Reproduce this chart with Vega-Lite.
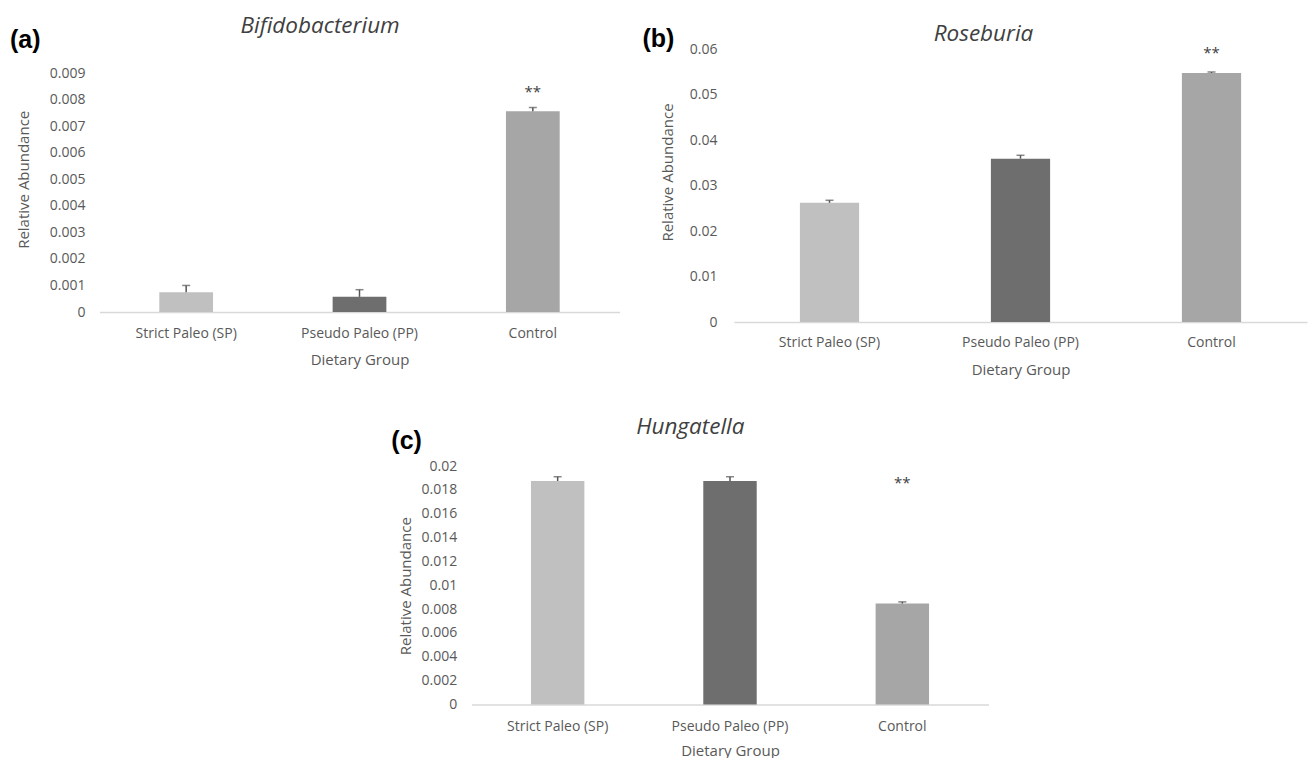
{
  "$schema": "https://vega.github.io/schema/vega-lite/v6.json",
  "background": "white",
  "padding": {"left": 9.5, "top": 13, "right": 0, "bottom": 1},
  "usermeta": {"embedOptions": {"actions": false}},
  "config": {
    "view": {"stroke": null},
    "font": "Open Sans",
    "axis": {"labelFont": "Open Sans", "labelFontSize": 14, "labelColor": "#595959", "titleFont": "Open Sans", "titleFontSize": 15, "titleFontWeight": "normal", "titleColor": "#595959", "ticks": false, "tickSize": 0, "grid": false, "domain": false},
    "text": {"font": "Open Sans"}
  },
  "spacing": 38,
  "vconcat": [
    {
      "spacing": 22.5,
      "hconcat": [
        {
          "spacing": 0,
          "vconcat": [
            {"width": 10, "height": 1, "data": {"values": [{"spacer": 1}]}, "mark": {"type": "point", "opacity": 0, "size": 0.5}},
            {
              "width": 520, "height": 239,
              "data": {"values": [
                {"group": "Strict Paleo (SP)", "abundance": 0.00074, "upper": 0.001},
                {"group": "Pseudo Paleo (PP)", "abundance": 0.00057, "upper": 0.00084},
                {"group": "Control", "abundance": 0.00756, "upper": 0.0077, "star": "**", "star_y": 0.00828}
              ]},
              "layer": [
                {"mark": {"type": "bar"},
                 "encoding": {
                   "x": {"field": "group", "type": "nominal", "sort": null, "scale": {"domain": ["Strict Paleo (SP)", "Pseudo Paleo (PP)", "Control"], "paddingInner": 0.69, "paddingOuter": 0.345},
                         "axis": {"orient": "bottom", "title": "Dietary Group", "labelAngle": 0, "domain": true, "domainColor": "#d9d9d9", "domainWidth": 1.5, "labelBaseline": "alphabetic", "labelPadding": 25.6, "titleBaseline": "alphabetic", "titleY": 52.3}},
                   "y": {"field": "abundance", "type": "quantitative", "scale": {"domain": [0, 0.009], "nice": false},
                         "axis": {"orient": "left", "title": "Relative Abundance", "values": [0, 0.001, 0.002, 0.003, 0.004, 0.005, 0.006, 0.007, 0.008, 0.009], "format": "~g", "labelPadding": 14.5, "titleBaseline": "alphabetic", "titleAlign": "center", "titleX": -70.8, "titleY": 106.3}},
                   "color": {"field": "group", "type": "nominal", "scale": {"domain": ["Strict Paleo (SP)", "Pseudo Paleo (PP)", "Control"], "range": ["#c0c0c0", "#6e6e6e", "#a6a6a6"]}, "legend": null}
                 }},
                {"mark": {"type": "rule", "color": "#555555", "strokeWidth": 1.5},
                 "encoding": {
                   "x": {"field": "group", "type": "nominal", "sort": null, "scale": {"domain": ["Strict Paleo (SP)", "Pseudo Paleo (PP)", "Control"], "paddingInner": 0.69, "paddingOuter": 0.345}, "axis": null},
                   "y": {"field": "abundance", "type": "quantitative", "scale": {"domain": [0, 0.009], "nice": false}, "axis": null},
                   "y2": {"field": "upper"}
                 }},
                {"mark": {"type": "tick", "color": "#555555", "thickness": 1.5, "size": 8},
                 "encoding": {
                   "x": {"field": "group", "type": "nominal", "sort": null, "scale": {"domain": ["Strict Paleo (SP)", "Pseudo Paleo (PP)", "Control"], "paddingInner": 0.69, "paddingOuter": 0.345}, "axis": null},
                   "y": {"field": "upper", "type": "quantitative", "scale": {"domain": [0, 0.009], "nice": false}, "axis": null}
                 }},
                {"transform": [{"filter": "isValid(datum.star)"}],
                 "mark": {"type": "text", "fontSize": 15, "color": "#404040", "baseline": "middle", "align": "center"},
                 "encoding": {
                   "x": {"field": "group", "type": "nominal", "sort": null, "scale": {"domain": ["Strict Paleo (SP)", "Pseudo Paleo (PP)", "Control"], "paddingInner": 0.69, "paddingOuter": 0.345},
                         "axis": {"orient": "top", "title": "Bifidobacterium", "labels": false, "domain": false, "ticks": false, "titleFontStyle": "italic", "titleFontSize": 22.5, "titleColor": "#404040", "titleAngle": 0, "titleAlign": "center", "titleBaseline": "alphabetic", "titleX": 220.1, "titleY": -40.7}},
                   "y": {"field": "star_y", "type": "quantitative", "scale": {"domain": [0, 0.009], "nice": false},
                         "axis": {"orient": "right", "title": "(a)", "labels": false, "domain": false, "ticks": false, "titleFont": "Liberation Sans", "titleFontWeight": "bold", "titleFontSize": 25, "titleColor": "#000000", "titleAngle": 0, "titleAlign": "left", "titleBaseline": "alphabetic", "titleX": -610, "titleY": -25.9}},
                   "text": {"field": "star"}
                 }}
              ],
              "resolve": {"axis": {"x": "independent", "y": "independent"}}
            }
          ]
        },
        {
          "spacing": 0,
          "vconcat": [
            {"width": 10, "height": 8.3, "data": {"values": [{"spacer": 1}]}, "mark": {"type": "point", "opacity": 0, "size": 0.5}},
            {
              "width": 573, "height": 273,
              "data": {"values": [
                {"group": "Strict Paleo (SP)", "abundance": 0.0262, "upper": 0.02675},
                {"group": "Pseudo Paleo (PP)", "abundance": 0.0359, "upper": 0.03664},
                {"group": "Control", "abundance": 0.05473, "upper": 0.05495, "star": "**", "star_y": 0.05918}
              ]},
              "layer": [
                {"mark": {"type": "bar"},
                 "encoding": {
                   "x": {"field": "group", "type": "nominal", "sort": null, "scale": {"domain": ["Strict Paleo (SP)", "Pseudo Paleo (PP)", "Control"], "paddingInner": 0.69, "paddingOuter": 0.345},
                         "axis": {"orient": "bottom", "title": "Dietary Group", "labelAngle": 0, "domain": true, "domainColor": "#d9d9d9", "domainWidth": 1.5, "labelBaseline": "alphabetic", "labelPadding": 24, "titleBaseline": "alphabetic", "titleY": 52}},
                   "y": {"field": "abundance", "type": "quantitative", "scale": {"domain": [0, 0.06], "nice": false},
                         "axis": {"orient": "left", "title": "Relative Abundance", "values": [0, 0.01, 0.02, 0.03, 0.04, 0.05, 0.06], "format": "~g", "labelPadding": 17, "titleBaseline": "alphabetic", "titleAlign": "center", "titleX": -62, "titleY": 123}},
                   "color": {"field": "group", "type": "nominal", "scale": {"domain": ["Strict Paleo (SP)", "Pseudo Paleo (PP)", "Control"], "range": ["#d9d9d9", "#707070", "#bfbfbf"]}, "legend": null}
                 }},
                {"mark": {"type": "rule", "color": "#555555", "strokeWidth": 1.5},
                 "encoding": {
                   "x": {"field": "group", "type": "nominal", "sort": null, "scale": {"domain": ["Strict Paleo (SP)", "Pseudo Paleo (PP)", "Control"], "paddingInner": 0.69, "paddingOuter": 0.345}, "axis": null},
                   "y": {"field": "abundance", "type": "quantitative", "scale": {"domain": [0, 0.06], "nice": false}, "axis": null},
                   "y2": {"field": "upper"}
                 }},
                {"mark": {"type": "tick", "color": "#555555", "thickness": 1.5, "size": 8},
                 "encoding": {
                   "x": {"field": "group", "type": "nominal", "sort": null, "scale": {"domain": ["Strict Paleo (SP)", "Pseudo Paleo (PP)", "Control"], "paddingInner": 0.69, "paddingOuter": 0.345}, "axis": null},
                   "y": {"field": "upper", "type": "quantitative", "scale": {"domain": [0, 0.06], "nice": false}, "axis": null}
                 }},
                {"transform": [{"filter": "isValid(datum.star)"}],
                 "mark": {"type": "text", "fontSize": 15, "color": "#404040", "baseline": "middle", "align": "center"},
                 "encoding": {
                   "x": {"field": "group", "type": "nominal", "sort": null, "scale": {"domain": ["Strict Paleo (SP)", "Pseudo Paleo (PP)", "Control"], "paddingInner": 0.69, "paddingOuter": 0.345},
                         "axis": {"orient": "top", "title": "Roseburia", "labels": false, "domain": false, "ticks": false, "titleFontStyle": "italic", "titleFontSize": 22.5, "titleColor": "#404040", "titleAngle": 0, "titleAlign": "center", "titleBaseline": "alphabetic", "titleX": 249, "titleY": -8.7}},
                   "y": {"field": "star_y", "type": "quantitative", "scale": {"domain": [0, 0.06], "nice": false},
                         "axis": {"orient": "right", "title": "(b)", "labels": false, "domain": false, "ticks": false, "titleFont": "Liberation Sans", "titleFontWeight": "bold", "titleFontSize": 25, "titleColor": "#000000", "titleAngle": 0, "titleAlign": "left", "titleBaseline": "alphabetic", "titleX": -665, "titleY": -3}},
                   "text": {"field": "star"}
                 }}
              ],
              "resolve": {"axis": {"x": "independent", "y": "independent"}}
            }
          ]
        }
      ]
    },
    {
      "spacing": 0,
      "hconcat": [
        {"width": 290.5, "height": 10, "data": {"values": [{"spacer": 1}]}, "mark": {"type": "point", "opacity": 0, "size": 0.5}},
        {
          "width": 517, "height": 238.4,
          "data": {"values": [
            {"group": "Strict Paleo (SP)", "abundance": 0.01874, "upper": 0.0191},
            {"group": "Pseudo Paleo (PP)", "abundance": 0.01874, "upper": 0.0191},
            {"group": "Control", "abundance": 0.00846, "upper": 0.0086, "star": "**", "star_y": 0.01854}
          ]},
          "layer": [
            {"mark": {"type": "bar"},
             "encoding": {
               "x": {"field": "group", "type": "nominal", "sort": null, "scale": {"domain": ["Strict Paleo (SP)", "Pseudo Paleo (PP)", "Control"], "paddingInner": 0.69, "paddingOuter": 0.345},
                     "axis": {"orient": "bottom", "title": "Dietary Group", "labelAngle": 0, "domain": true, "domainColor": "#d9d9d9", "domainWidth": 1.5, "labelBaseline": "alphabetic", "labelPadding": 26, "titleBaseline": "alphabetic", "titleY": 50.6}},
               "y": {"field": "abundance", "type": "quantitative", "scale": {"domain": [0, 0.02], "nice": false},
                     "axis": {"orient": "left", "title": "Relative Abundance", "values": [0, 0.002, 0.004, 0.006, 0.008, 0.01, 0.012, 0.014, 0.016, 0.018, 0.02], "format": "~g", "labelPadding": 14.7, "titleBaseline": "alphabetic", "titleAlign": "center", "titleX": -60.7, "titleY": 119.7}},
               "color": {"field": "group", "type": "nominal", "scale": {"domain": ["Strict Paleo (SP)", "Pseudo Paleo (PP)", "Control"], "range": ["#bfbfbf", "#737373", "#a5a5a5"]}, "legend": null}
             }},
            {"mark": {"type": "rule", "color": "#555555", "strokeWidth": 1.5},
             "encoding": {
               "x": {"field": "group", "type": "nominal", "sort": null, "scale": {"domain": ["Strict Paleo (SP)", "Pseudo Paleo (PP)", "Control"], "paddingInner": 0.69, "paddingOuter": 0.345}, "axis": null},
               "y": {"field": "abundance", "type": "quantitative", "scale": {"domain": [0, 0.02], "nice": false}, "axis": null},
               "y2": {"field": "upper"}
             }},
            {"mark": {"type": "tick", "color": "#555555", "thickness": 1.5, "size": 8},
             "encoding": {
               "x": {"field": "group", "type": "nominal", "sort": null, "scale": {"domain": ["Strict Paleo (SP)", "Pseudo Paleo (PP)", "Control"], "paddingInner": 0.69, "paddingOuter": 0.345}, "axis": null},
               "y": {"field": "upper", "type": "quantitative", "scale": {"domain": [0, 0.02], "nice": false}, "axis": null}
             }},
            {"transform": [{"filter": "isValid(datum.star)"}],
             "mark": {"type": "text", "fontSize": 15, "color": "#404040", "baseline": "middle", "align": "center"},
             "encoding": {
               "x": {"field": "group", "type": "nominal", "sort": null, "scale": {"domain": ["Strict Paleo (SP)", "Pseudo Paleo (PP)", "Control"], "paddingInner": 0.69, "paddingOuter": 0.345},
                     "axis": {"orient": "top", "title": "Hungatella", "labels": false, "domain": false, "ticks": false, "titleFontStyle": "italic", "titleFontSize": 22.5, "titleColor": "#404040", "titleAngle": 0, "titleAlign": "center", "titleBaseline": "alphabetic", "titleX": 218.3, "titleY": -32.3}},
               "y": {"field": "star_y", "type": "quantitative", "scale": {"domain": [0, 0.02], "nice": false},
                     "axis": {"orient": "right", "title": "(c)", "labels": false, "domain": false, "ticks": false, "titleFont": "Liberation Sans", "titleFontWeight": "bold", "titleFontSize": 25, "titleColor": "#000000", "titleAngle": 0, "titleAlign": "left", "titleBaseline": "alphabetic", "titleX": -597.7, "titleY": -17.8}},
               "text": {"field": "star"}
             }}
          ],
          "resolve": {"axis": {"x": "independent", "y": "independent"}}
        }
      ]
    }
  ]
}
